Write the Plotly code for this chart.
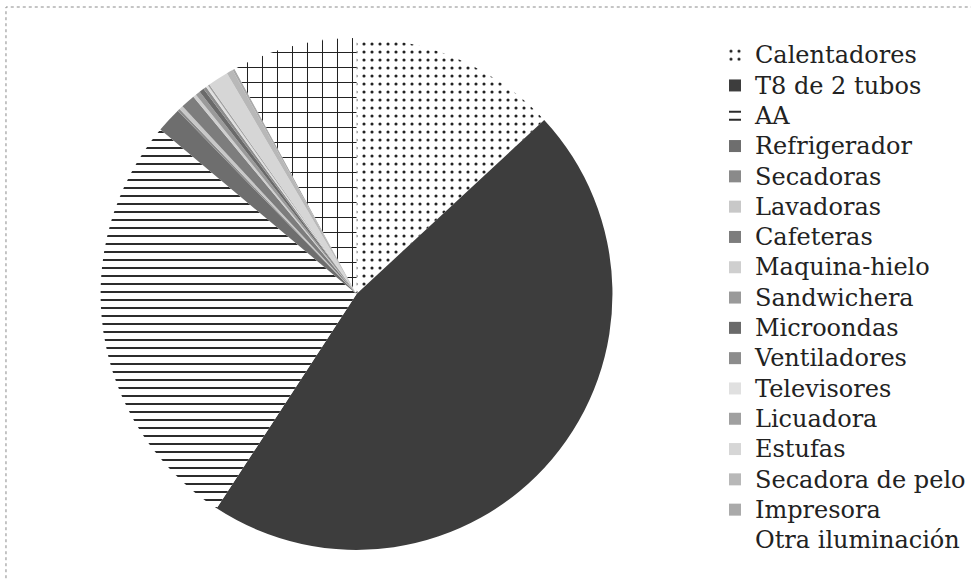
import plotly.graph_objects as go

categories = ["Calentadores", "T8 de 2 tubos", "AA", "Refrigerador", "Secadoras",
              "Lavadoras", "Cafeteras", "Maquina-hielo", "Sandwichera", "Microondas",
              "Ventiladores", "Televisores", "Licuadora", "Estufas",
              "Secadora de pelo", "Impresora", "Otra iluminación"]
values = [13.1, 46.1, 26.9, 1.6, 0.15, 0.25, 0.9, 0.2, 0.3, 0.3, 0.2, 0.15, 0.1,
          1.3, 0.4, 0.15, 7.9]
colors = ["#ffffff", "#3d3d3d", "#ffffff", "#6e6e6e", "#8a8a8a", "#c8c8c8",
          "#7d7d7d", "#cfcfcf", "#9a9a9a", "#6a6a6a", "#8c8c8c", "#e0e0e0",
          "#a0a0a0", "#d6d6d6", "#b8b8b8", "#aaaaaa", "#ffffff"]
shapes = [".", "", "-"] + [""] * 13 + ["+"]
pat_size = [8, 8, 8] + [8] * 13 + [15]
pat_solid = [0.12, 0.3, 0.24] + [0.3] * 13 + [0.13]
fg = ["#222222", "#3d3d3d", "#222222"] + colors[3:16] + ["#222222"]
bg = ["#ffffff", "#3d3d3d", "#ffffff"] + colors[3:16] + ["#ffffff"]

SERIF = "Liberation Serif"
labels = [f"<span style='font-family:DejaVu Serif;font-size:24px'>{c}</span>"
          for c in categories]

fig = go.Figure(go.Pie(
    labels=labels,
    values=values,
    sort=False,
    direction="clockwise",
    rotation=0,
    textinfo="none",
    hoverinfo="skip",
    marker=dict(colors=colors, line=dict(width=0),
                pattern=dict(shape=shapes, size=pat_size, solidity=pat_solid,
                             fgcolor=fg, bgcolor=bg, fillmode="replace")),
    domain=dict(x=[101 / 971, 615 / 971], y=[1 - 551 / 581, 1 - 37 / 581]),
))

fig.update_layout(
    width=971, height=581,
    margin=dict(l=0, r=0, t=0, b=0),
    paper_bgcolor="white",
    plot_bgcolor="white",
    font=dict(family=SERIF, color="#222222"),
    legend=dict(x=718 / 971, xanchor="left", y=1 - 35 / 581, yanchor="top",
                font=dict(size=21, family=SERIF, color="#222222"),
                bgcolor="rgba(0,0,0,0)", borderwidth=0, traceorder="normal"),
    shapes=[dict(type="rect", xref="paper", yref="paper",
                 x0=6 / 971, x1=1.02, y0=-0.05, y1=1 - 7 / 581,
                 line=dict(color="#8a8a8a", width=1, dash="dot"))],
)

fig.write_html("out.html")
